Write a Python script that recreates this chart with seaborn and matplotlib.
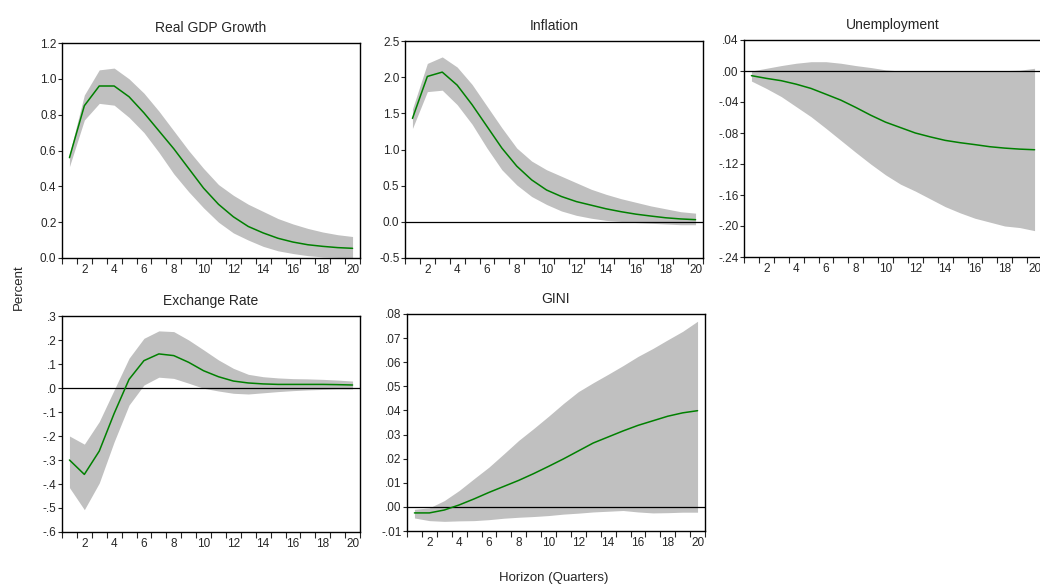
import numpy as np
import pandas as pd
import matplotlib
matplotlib.use('Agg')
import matplotlib.pyplot as plt
import seaborn as sns

# horizon
horizon = list(range(1, 21))

# impulse responses (median + band)
gdp_mid = [0.56, 0.85, 0.96, 0.96, 0.90, 0.81, 0.71, 0.61, 0.50, 0.39, 0.30, 0.23, 0.176, 0.14, 0.11, 0.089, 0.074, 0.065, 0.058, 0.054]
gdp_hi = [0.58, 0.91, 1.05, 1.06, 1.00, 0.92, 0.82, 0.71, 0.60, 0.50, 0.41, 0.35, 0.30, 0.26, 0.22, 0.19, 0.165, 0.145, 0.13, 0.12]
gdp_lo = [0.51, 0.77, 0.863, 0.853, 0.785, 0.70, 0.59, 0.47, 0.37, 0.28, 0.20, 0.14, 0.10, 0.065, 0.04, 0.025, 0.013, 0.006, 0.003, 0.0]

inf_mid = [1.43, 2.01, 2.07, 1.89, 1.62, 1.32, 1.02, 0.77, 0.58, 0.44, 0.35, 0.28, 0.23, 0.18, 0.14, 0.106, 0.08, 0.056, 0.04, 0.03]
inf_hi = [1.56, 2.19, 2.28, 2.14, 1.90, 1.60, 1.30, 1.02, 0.84, 0.72, 0.63, 0.54, 0.45, 0.38, 0.32, 0.27, 0.22, 0.18, 0.14, 0.12]
inf_lo = [1.29, 1.80, 1.82, 1.62, 1.35, 1.02, 0.72, 0.51, 0.35, 0.24, 0.15, 0.09, 0.05, 0.02, 0.005, -0.01, -0.02, -0.03, -0.04, -0.04]

unemp_mid = [-0.006, -0.0095, -0.0125, -0.017, -0.0225, -0.030, -0.0376, -0.047, -0.057, -0.066, -0.073, -0.080, -0.085, -0.0895, -0.0925, -0.095, -0.0977, -0.0995, -0.1008, -0.1016]
unemp_hi = [0.0, 0.0035, 0.007, 0.010, 0.012, 0.012, 0.010, 0.007, 0.0045, 0.0015, 0.0, -0.0005, -0.0005, 0.0, 0.0, 0.0, 0.0005, 0.0005, 0.001, 0.0035]
unemp_lo = [-0.013, -0.0225, -0.033, -0.046, -0.059, -0.074, -0.0895, -0.105, -0.12, -0.134, -0.146, -0.155, -0.165, -0.175, -0.183, -0.19, -0.195, -0.20, -0.202, -0.206]

fx_mid = [-0.30, -0.36, -0.263, -0.106, 0.036, 0.114, 0.142, 0.135, 0.107, 0.072, 0.047, 0.029, 0.021, 0.017, 0.015, 0.015, 0.015, 0.015, 0.014, 0.0125]
fx_hi = [-0.20, -0.234, -0.14, -0.008, 0.124, 0.207, 0.238, 0.235, 0.20, 0.159, 0.117, 0.082, 0.057, 0.047, 0.042, 0.039, 0.038, 0.036, 0.033, 0.029]
fx_lo = [-0.415, -0.507, -0.396, -0.224, -0.071, 0.0125, 0.045, 0.04, 0.02, -0.001, -0.0125, -0.022, -0.025, -0.02, -0.015, -0.011, -0.008, -0.006, -0.004, -0.004]

gini_mid = [-0.0025, -0.0025, -0.0013, 0.0008, 0.0033, 0.006, 0.0085, 0.011, 0.0138, 0.0168, 0.0199, 0.0232, 0.0265, 0.029, 0.0315, 0.0338, 0.0357, 0.0376, 0.039, 0.0399]
gini_hi = [-0.001, -0.0004, 0.0026, 0.0068, 0.0117, 0.0165, 0.022, 0.0276, 0.0325, 0.0376, 0.0429, 0.0478, 0.0515, 0.055, 0.0586, 0.0624, 0.0657, 0.0693, 0.0728, 0.077]
gini_lo = [-0.0046, -0.0057, -0.006, -0.0058, -0.0057, -0.0053, -0.0047, -0.0043, -0.004, -0.0036, -0.003, -0.0026, -0.0021, -0.0018, -0.0015, -0.0021, -0.0025, -0.0024, -0.0022, -0.0022]

titles = ['Real GDP Growth', 'Inflation', 'Unemployment', 'Exchange Rate', 'GINI']

sns.set_style('white')
plt.rcParams['font.family'] = ['Liberation Sans', 'DejaVu Sans']

W, H = 1040, 587
fig = plt.figure(figsize=(W / 100, H / 100), dpi=100)


def px_axes(left, top, right, bottom):
    return fig.add_axes([left / W, 1 - bottom / H, (right - left) / W, (bottom - top) / H])


def fmt_lab(v, dec, lead):
    v = round(float(v), dec) + 0.0
    if abs(v) < 10 ** (-dec - 1):
        v = 0.0
    s = f'{v:.{dec}f}'
    if not lead:
        s = s.replace('0.', '.')
    return s


# (data, box in px, ylim, yticks, decimals, leading zero, zero line)
panels = [
    (gdp_mid, gdp_hi, gdp_lo, (62, 43, 360, 258), (0, 1.2), np.arange(0, 1.21, 0.2), 1, True, False),
    (inf_mid, inf_hi, inf_lo, (405, 41, 703, 258), (-0.5, 2.5), np.arange(-0.5, 2.51, 0.5), 1, True, True),
    (unemp_mid, unemp_hi, unemp_lo, (744, 40, 1042, 257), (-0.24, 0.04), np.arange(-0.24, 0.041, 0.04), 2, False, True),
    (fx_mid, fx_hi, fx_lo, (62, 316, 360, 532), (-0.6, 0.3), np.arange(-0.6, 0.31, 0.1), 1, False, True),
    (gini_mid, gini_hi, gini_lo, (407, 314, 705, 531), (-0.01, 0.08), np.arange(-0.01, 0.081, 0.01), 2, False, True),
]

for (mid, hi, lo, box, ylim, yt, dec, lead, zline), title in zip(panels, titles):
    ax = px_axes(*box)
    df = pd.DataFrame({'h': horizon, 'mid': mid, 'hi': hi, 'lo': lo})
    ax.fill_between(df['h'], df['lo'], df['hi'], color='#c0c0c0', lw=0, zorder=1)
    sns.lineplot(data=df, x='h', y='mid', color='#008000', lw=1.1, ax=ax, zorder=3)
    if zline:
        ax.axhline(0, color='black', lw=0.9, zorder=2)
    ax.set_xlim(0.5, 20.5)
    ax.set_ylim(*ylim)
    ax.set_xticks(np.arange(0.5, 20.6, 1), minor=True)
    ax.set_xticks(range(2, 21, 2))
    ax.set_xticklabels([str(i) for i in range(2, 21, 2)])
    ax.tick_params(axis='x', which='major', length=0, labelsize=8.5, pad=4)
    ax.tick_params(axis='x', which='minor', length=4, width=0.8, direction='out', bottom=True)
    ax.set_yticks(yt)
    ax.set_yticklabels([fmt_lab(v, dec, lead) for v in yt])
    ax.tick_params(axis='y', length=3, width=0.8, direction='out', left=True, labelsize=8.5, pad=1)
    for sp in ax.spines.values():
        sp.set_color('black')
        sp.set_linewidth(1.0)
    ax.set_xlabel('')
    ax.set_ylabel('')
    ax.set_title(title, fontsize=10, pad=8)

fig.text(19 / W, 1 - 287 / H, 'Percent', rotation=90, ha='center', va='center', fontsize=9.5)
fig.text(554 / W, 1 - 578 / H, 'Horizon (Quarters)', ha='center', va='center', fontsize=9.5)

fig.savefig('out.png', dpi=100)
